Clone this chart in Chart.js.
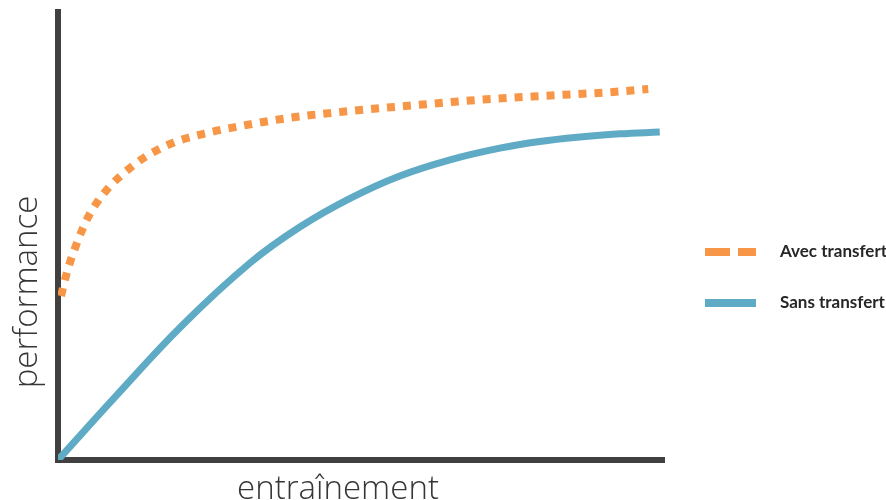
<!DOCTYPE html>
<html>
<head>
<meta charset="utf-8">
<title>performance / entraînement</title>
<script src="https://cdn.jsdelivr.net/npm/chart.js@4.4.1/dist/chart.umd.min.js"></script>
<style>
  html, body { margin: 0; padding: 0; background: #fff; }
  #chart { display: block; }
</style>
</head>
<body>
<canvas id="chart" width="886" height="500"></canvas>
<script>
// values (x: entraînement, y: performance, 0..100)
const seriesNames = ['Avec transfert', 'Sans transfert'];

const avecX = [0.5, 1.2, 2.0, 3.0, 4.0, 5.2, 6.6, 8.3, 10, 14, 19, 24.6, 30, 37.8, 48.2, 58.9, 69.6, 80.4, 91.1, 97.4];
const avecY = [36.6, 40.5, 44.2, 48.0, 51.4, 54.8, 57.8, 60.7, 63.0, 67.3, 70.8, 73.0, 74.5, 76.3, 77.9, 79.2, 80.4, 81.3, 82.1, 82.8];

const sansX = [0, 9.7, 20.6, 31.7, 39.9, 48.2, 56.4, 64.7, 72.9, 79.5, 86.1, 92.7, 99.3];
const sansY = [0, 14.5, 30.2, 44.0, 52.0, 58.4, 63.4, 67.0, 69.6, 71.1, 72.1, 72.8, 73.2];

const xTitle = 'entraînement';
const yTitle = 'performance';

const orange = '#F79646';
const blue = '#5FABC6';
const axisColor = '#404040';

function pairs(xs, ys) {
    return xs.map((x, i) => ({ x: x, y: ys[i] }));
}

// axis titles, placed off-centre like the original
const titlesPlugin = {
    id: 'titles',
    afterDraw(chart) {
        const ctx = chart.ctx;
        const area = chart.chartArea;
        ctx.save();
        ctx.fillStyle = '#363636';
        ctx.font = '300 33px "Open Sans"';
        ctx.textAlign = 'center';
        ctx.textBaseline = 'alphabetic';
        ctx.fillText(xTitle, area.left + 280, 499);
        ctx.translate(37, area.top + 280);
        ctx.rotate(-Math.PI / 2);
        ctx.fillText(yTitle, 0, 0);
        ctx.restore();
    }
};

// legend with line samples
const legendPlugin = {
    id: 'lineLegend',
    afterDraw(chart, args, opts) {
        const ctx = chart.ctx;
        const area = chart.chartArea;
        const x0 = area.right + 41;
        chart.data.datasets.forEach((ds, i) => {
            const y = area.top + opts.rows[i];
            ctx.save();
            ctx.strokeStyle = ds.borderColor;
            ctx.lineWidth = 8;
            ctx.lineCap = 'butt';
            ctx.setLineDash(opts.dash[i]);
            ctx.beginPath();
            ctx.moveTo(x0, y);
            ctx.lineTo(x0 + 51, y);
            ctx.stroke();
            ctx.setLineDash([]);
            ctx.fillStyle = '#262626';
            ctx.font = 'bold 17px Lato';
            ctx.textAlign = 'left';
            ctx.textBaseline = 'middle';
            ctx.fillText(ds.label, x0 + 75, y);
            ctx.restore();
        });
    }
};

new Chart(document.getElementById('chart'), {
    type: 'line',
    data: {
        datasets: [{
            label: seriesNames[0],
            data: pairs(avecX, avecY),
            borderColor: orange,
            borderWidth: 8,
            borderDash: [8, 8],
            borderCapStyle: 'butt',
            cubicInterpolationMode: 'monotone',
            pointRadius: 0,
            fill: false
        }, {
            label: seriesNames[1],
            data: pairs(sansX, sansY),
            borderColor: blue,
            borderWidth: 7,
            borderCapStyle: 'butt',
            tension: 0.4,
            pointRadius: 0,
            fill: false
        }]
    },
    options: {
        responsive: false,
        animation: false,
        layout: { padding: { left: 58, top: 12, right: 222, bottom: 40 } },
        scales: {
            x: {
                type: 'linear',
                min: 0,
                max: 100,
                ticks: { display: false },
                grid: { display: false, drawTicks: false },
                border: { display: true, color: axisColor, width: 6 }
            },
            y: {
                min: 0,
                max: 100,
                ticks: { display: false },
                grid: { display: false, drawTicks: false },
                border: { display: true, color: axisColor, width: 6 }
            }
        },
        plugins: {
            legend: { display: false },
            tooltip: { enabled: false },
            lineLegend: { rows: [240, 291], dash: [[25, 8], []] }
        }
    },
    plugins: [titlesPlugin, legendPlugin]
});
</script>
</body>
</html>
